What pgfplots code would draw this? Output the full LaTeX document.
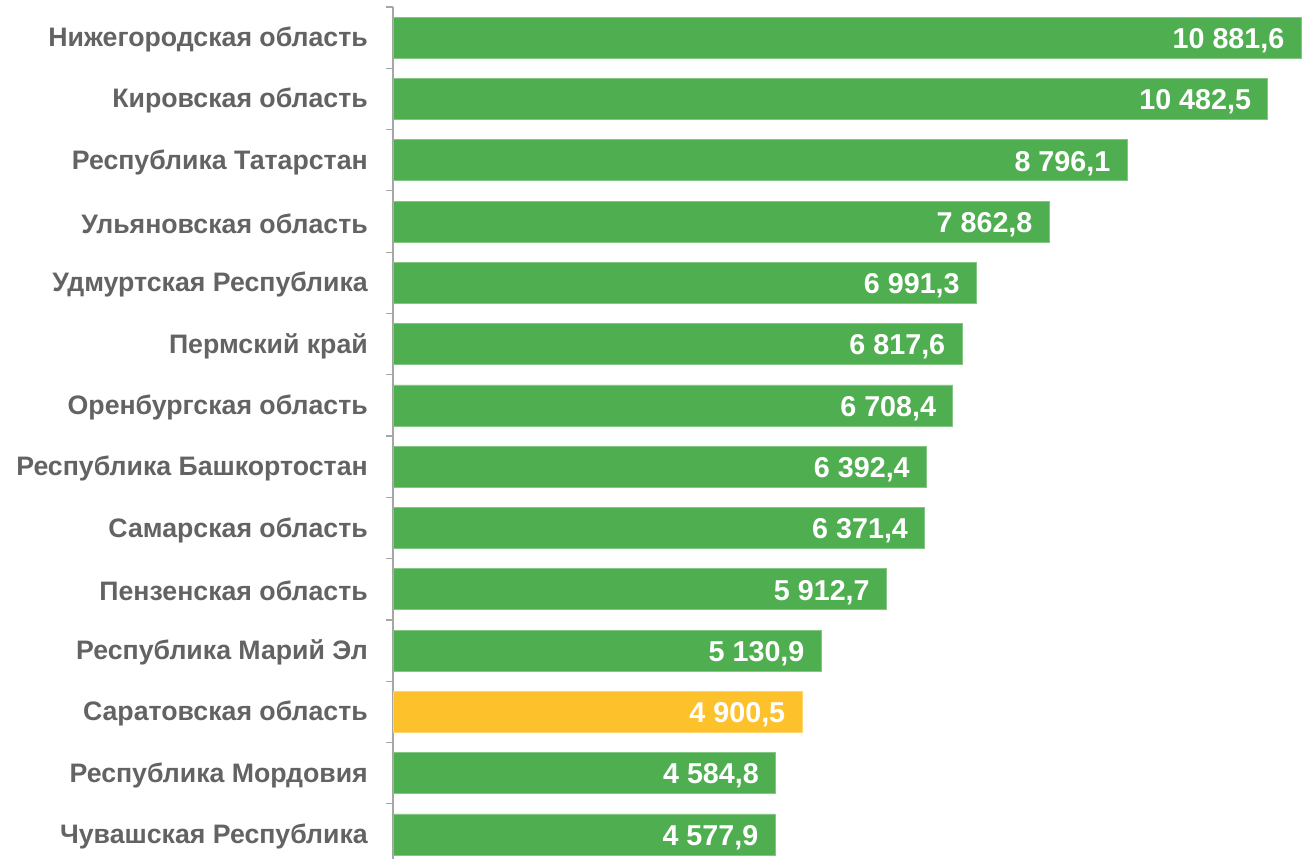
\documentclass[border=0pt]{standalone}
\usepackage{pgfplots}
\pgfplotsset{compat=1.18}
\usepackage{fontspec}
\setmainfont{Liberation Sans}
\definecolor{barG}{HTML}{4FAE50}
\definecolor{barY}{HTML}{FDC12C}
\definecolor{labG}{HTML}{636363}
\definecolor{axG}{HTML}{A6A6A6}
\begin{document}
\begin{tikzpicture}
\begin{axis}[
  scale only axis,
  width=918pt, height=852pt,
  xmin=0, xmax=11000,
  ymin=-0.5, ymax=13.4,
  y dir=reverse,
  axis x line=none,
  axis y line*=left,
  axis line style={axG, line width=1.2pt},
  xbar, bar width=41pt, bar shift=0pt,
  ytick={0,...,13},
  yticklabels={Нижегородская область, Кировская область, Республика Татарстан, Ульяновская область, Удмуртская Республика, Пермский край, Оренбургская область, Республика Башкортостан, Самарская область, Пензенская область, Республика Марий Эл, Саратовская область, Республика Мордовия, Чувашская Республика},
  major tick length=0pt,
  minor ytick={-0.5,0.5,...,13.5},
  minor tick length=7pt,
  tick align=outside,
  minor tick style={axG, line width=1.2pt},
  yticklabel style={font=\fontsize{26.7}{30}\selectfont\bfseries, text=labG, inner sep=0pt, xshift=-25pt, yshift=-2pt},
  point meta=explicit symbolic,
  nodes near coords,
  every node near coord/.append style={anchor=east, xshift=-13pt, yshift=-3pt, text=white, font=\fontsize{28.7}{32}\selectfont\bfseries},
]
\addplot[fill=barG, draw=barG!70!white, line width=0.8pt] coordinates {
(10881.6,0) [10 881,6]
(10482.5,1) [10 482,5]
(8796.1,2) [8 796,1]
(7862.8,3) [7 862,8]
(6991.3,4) [6 991,3]
(6817.6,5) [6 817,6]
(6708.4,6) [6 708,4]
(6392.4,7) [6 392,4]
(6371.4,8) [6 371,4]
(5912.7,9) [5 912,7]
(5130.9,10) [5 130,9]
(4584.8,12) [4 584,8]
(4577.9,13) [4 577,9]
};
\addplot[fill=barY, draw=barY!70!white, line width=0.8pt] coordinates {
(4900.5,11) [4 900,5]
};
\end{axis}
\path ([xshift=-393pt]current axis.south west) rectangle ([yshift=7pt]current axis.north east);
\end{tikzpicture}
\end{document}
